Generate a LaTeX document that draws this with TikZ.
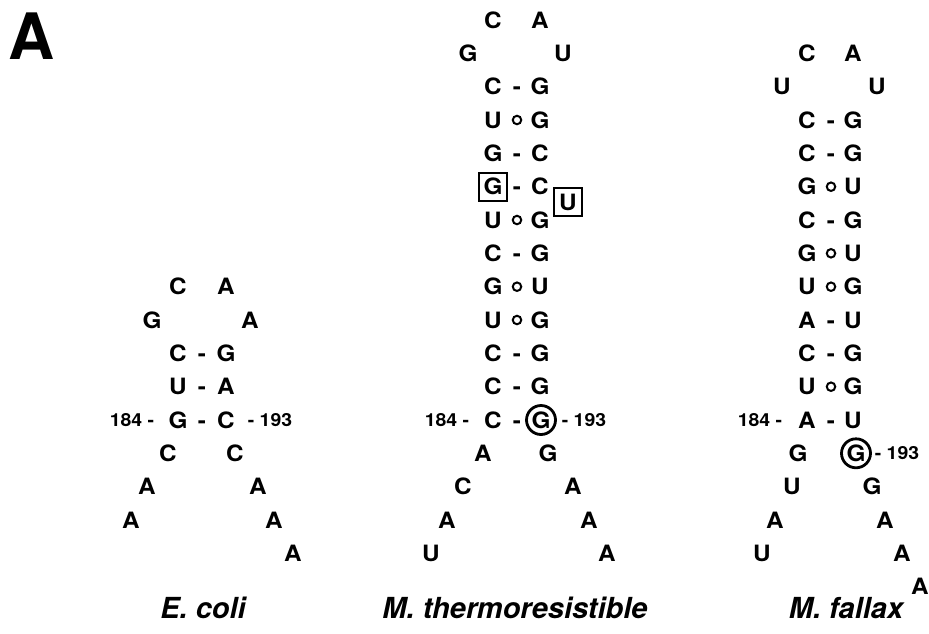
\documentclass[tikz,border=0pt]{standalone}
\usepackage{fontspec}
\setmainfont{TeX Gyre Heros}
\newfontfamily\basefont[FakeStretch=1.08]{TeX Gyre Heros}
\tikzset{
  nt/.style={font=\basefont\fontsize{22.5}{22.5}\selectfont\bfseries, inner sep=0pt, text height=16pt, text depth=0pt, anchor=center},
  num/.style={font=\basefont\fontsize{18}{18}\selectfont\bfseries, inner sep=0pt, text height=12.5pt, text depth=0pt},
  wob/.style={circle, draw, line width=2pt, minimum size=8.5pt, inner sep=0pt},
  boxed/.style={nt, draw, line width=2pt, minimum width=28pt, minimum height=28pt},
  ringed/.style={nt, circle, draw, line width=2.8pt, minimum size=29pt},
  species/.style={font=\fontsize{29}{29}\selectfont\bfseries\itshape, inner sep=0pt, text height=21pt, text depth=0pt},
  panel/.style={font=\fontsize{64}{64}\selectfont\bfseries, inner sep=0pt, text height=46pt, text depth=0pt}
}
% base pair: id, y, x-left, x-bond, x-right, left base, bond (- or o), right base
\newcommand{\bpair}[8]{%
  \node[nt] (#1L) at (#3,#2) {#6};
  \ifx o#7\node[wob] (#1B) at (#4,#2) {};\else\node[nt] (#1B) at (#4,#2) {-};\fi
  \node[nt] (#1R) at (#5,#2) {#8};}
\begin{document}
\begin{tikzpicture}[x=1pt,y=-1pt]
\useasboundingbox (0,0) rectangle (929,633);

\node[panel] (panelA) at (32,36) {A};

% ---------- E. coli ----------
\node[nt] (eLa) at (178,286.7) {C};
\node[nt] (eLb) at (226,286.7) {A};
\node[nt] (eLc) at (152,320) {G};
\node[nt] (eLd) at (250,320) {A};
\bpair{e1}{353.3}{178}{202}{226}{C}{-}{G}
\bpair{e2}{386.7}{178}{202}{226}{U}{-}{A}
\bpair{e3}{420}{178}{202}{226}{G}{-}{C}
\node[num] (e184) at (132,420) {184 -};
\node[num] (e193) at (270,420) {- 193};
\node[nt] (eT1) at (168,453.3) {C};
\node[nt] (eT2) at (235,453.3) {C};
\node[nt] (eT3) at (147,486.7) {A};
\node[nt] (eT4) at (258,486.7) {A};
\node[nt] (eT5) at (131,520) {A};
\node[nt] (eT6) at (274,520) {A};
\node[nt] (eT7) at (293,553.3) {A};
\node[species] (eName) at (203,608) {E. coli};

% ---------- M. thermoresistible ----------
\node[nt] (tLa) at (493,20) {C};
\node[nt] (tLb) at (540,20) {A};
\node[nt] (tLc) at (468,53.3) {G};
\node[nt] (tLd) at (563,53.3) {U};
\bpair{t1}{86.7}{493}{517}{540}{C}{-}{G}
\bpair{t2}{120}{493}{517}{540}{U}{o}{G}
\bpair{t3}{153.3}{493}{517}{540}{G}{-}{C}
\node[boxed] (t4L) at (493,186.7) {G};
\node[nt] (t4B) at (517,186.7) {-};
\node[nt] (t4R) at (540,186.7) {C};
\node[boxed] (tIns) at (568,202) {U};
\bpair{t5}{220}{493}{517}{540}{U}{o}{G}
\bpair{t6}{253.3}{493}{517}{540}{C}{-}{G}
\bpair{t7}{286.7}{493}{517}{540}{G}{o}{U}
\bpair{t8}{320}{493}{517}{540}{U}{o}{G}
\bpair{t9}{353.3}{493}{517}{540}{C}{-}{G}
\bpair{t10}{386.7}{493}{517}{540}{C}{-}{G}
\node[nt] (t11L) at (493,420) {C};
\node[nt] (t11B) at (517,420) {-};
\node[ringed] (t11R) at (541,420) {G};
\node[num] (t184) at (447,420) {184 -};
\node[num] (t193) at (584,420) {- 193};
\node[nt] (tT1) at (483,453.3) {A};
\node[nt] (tT2) at (548,453.3) {G};
\node[nt] (tT3) at (463,486.7) {C};
\node[nt] (tT4) at (573,486.7) {A};
\node[nt] (tT5) at (447,520) {A};
\node[nt] (tT6) at (589,520) {A};
\node[nt] (tT7) at (431,553.3) {U};
\node[nt] (tT8) at (607,553.3) {A};
\node[species] (tName) at (515,608) {M. thermoresistible};

% ---------- M. fallax ----------
\node[nt] (fLa) at (807,53.3) {C};
\node[nt] (fLb) at (853,53.3) {A};
\node[nt] (fLc) at (782,86.7) {U};
\node[nt] (fLd) at (877,86.7) {U};
\bpair{f1}{120}{807}{831}{853}{C}{-}{G}
\bpair{f2}{153.3}{807}{831}{853}{C}{-}{G}
\bpair{f3}{186.7}{807}{831}{853}{G}{o}{U}
\bpair{f4}{220}{807}{831}{853}{C}{-}{G}
\bpair{f5}{253.3}{807}{831}{853}{G}{o}{U}
\bpair{f6}{286.7}{807}{831}{853}{U}{o}{G}
\bpair{f7}{320}{807}{831}{853}{A}{-}{U}
\bpair{f8}{353.3}{807}{831}{853}{C}{-}{G}
\bpair{f9}{386.7}{807}{831}{853}{U}{o}{G}
\bpair{f10}{420}{807}{831}{853}{A}{-}{U}
\node[num] (f184) at (760,420) {184 -};
\node[nt] (fT1) at (798,453.3) {G};
\node[ringed] (fT2) at (856,453.3) {G};
\node[num] (f193) at (897,453.3) {- 193};
\node[nt] (fT3) at (792,486.7) {U};
\node[nt] (fT4) at (872,486.7) {G};
\node[nt] (fT5) at (775,520) {A};
\node[nt] (fT6) at (885,520) {A};
\node[nt] (fT7) at (762,553.3) {U};
\node[nt] (fT8) at (902,553.3) {A};
\node[nt] (fT9) at (920,586.7) {A};
\node[species] (fName) at (846,608) {M. fallax};
\end{tikzpicture}
\end{document}
